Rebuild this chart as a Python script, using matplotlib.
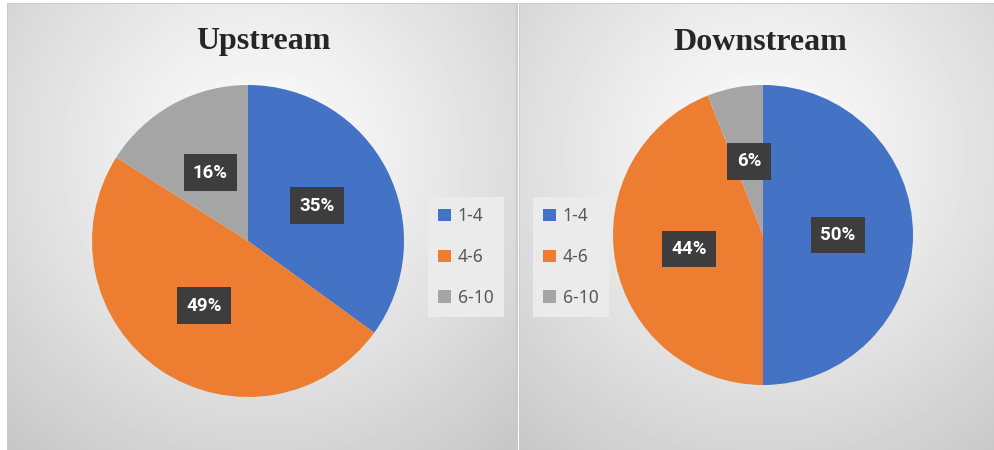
import numpy as np
import matplotlib
matplotlib.use("Agg")
import matplotlib.pyplot as plt
from matplotlib.patches import Rectangle

W, H = 995, 450

categories = ["1-4", "4-6", "6-10"]
upstream = [35, 49, 16]
downstream = [50, 44, 6]
colors = ["#4472C4", "#ED7D31", "#A5A5A5"]

fig = plt.figure(figsize=(W / 100, H / 100), dpi=100)
fig.patch.set_facecolor("white")


def px_axes(x0, y0, x1, y1, **kw):
    # axes placed by pixel box (top-left origin)
    return fig.add_axes([x0 / W, 1 - y1 / H, (x1 - x0) / W, (y1 - y0) / H], **kw)


def panel(x0, y0, x1, y1, cx, cy):
    ax = px_axes(x0, y0, x1, y1)
    w, h = int(x1 - x0), int(y1 - y0)
    xx, yy = np.meshgrid(np.arange(w), np.arange(h))
    d = np.hypot((xx - cx) / 400.0, (yy - cy) / 400.0)
    img = 0.99 - 0.22 * np.clip(d, 0, 1.2) ** 1.2
    ax.imshow(img, cmap="gray", vmin=0, vmax=1, extent=(0, w, h, 0), aspect="auto",
              interpolation="bilinear")
    ax.set_xlim(0, w)
    ax.set_ylim(h, 0)
    ax.axis("off")
    ax.add_patch(Rectangle((0, 0), w - 1, h + 5, fill=False, ec="#c8c8c8", lw=1.2))
    return ax


def pie_chart(values, cx, cy, r, title, tx, legend_x):
    ax = px_axes(cx - r, cy - r, cx + r, cy + r)
    wedges, _, autotexts = ax.pie(
        values, colors=colors, startangle=90, counterclock=False,
        autopct="%1.0f%%", pctdistance=0.5, radius=1,
        wedgeprops=dict(linewidth=0),
        textprops=dict(color="white", fontsize=13.5, fontweight="bold", family="Roboto"))
    for t in autotexts:
        t.set_bbox(dict(boxstyle="square,pad=0.5", fc="#3d3d3d", ec="none"))
    ax.set_xlim(-1, 1)
    ax.set_ylim(-1, 1)
    ax.axis("off")

    fig.text(tx / W, 1 - 42 / H, title, ha="center", va="center",
             fontsize=23, fontweight="bold", family="Liberation Serif", color="#262626")

    fig.legend(wedges, categories, loc="upper left",
               bbox_to_anchor=(legend_x / W, 1 - 197 / H),
               frameon=True, fancybox=False, framealpha=1,
               facecolor="#ebebeb", edgecolor="none",
               prop=dict(family="Noto Sans", size=12.5),
               labelcolor="#595959", handlelength=0.7, handleheight=0.7,
               handletextpad=0.4, labelspacing=1.3, borderpad=0.6,
               borderaxespad=0)
    return ax


panel(7, 3, 518, 452, 255, 150)
panel(519, 3, 996, 452, 245, 150)

pie_chart(upstream, 248, 241, 156, "Upstream", 263, 428)
pie_chart(downstream, 763, 235, 150, "Downstream", 760, 533)

fig.savefig("out.png", dpi=100)
